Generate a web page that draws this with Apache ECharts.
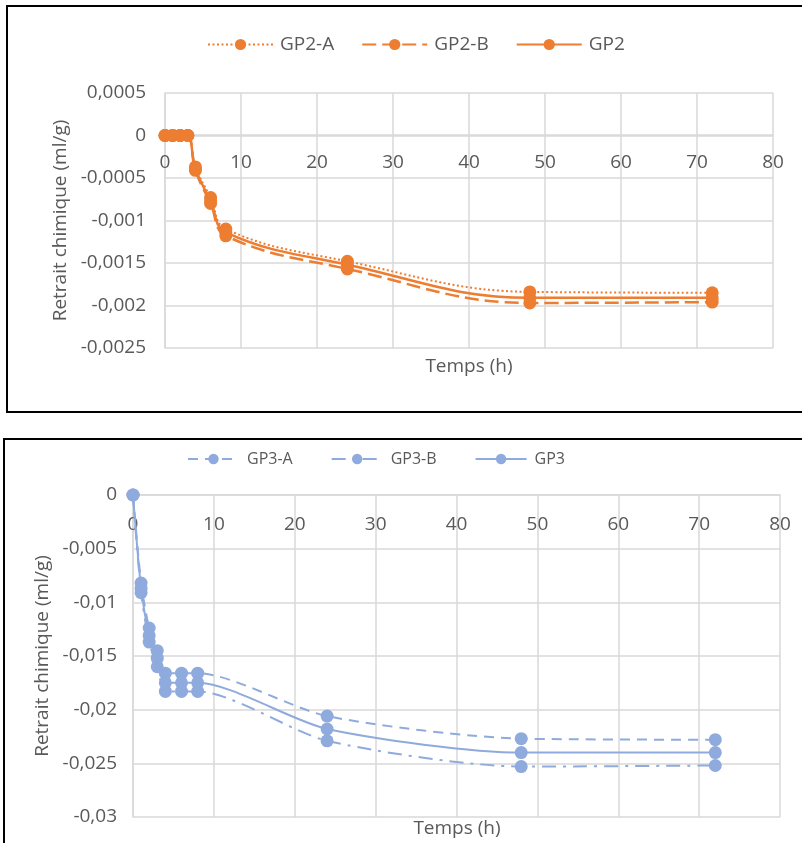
<!DOCTYPE html>
<html><head><meta charset="utf-8">
<script src="https://cdn.jsdelivr.net/npm/echarts@6/dist/echarts.min.js"></script>
<style>html,body{margin:0;padding:0;background:#fff}#c{width:802px;height:843px}</style>
</head><body><div id="c"></div>
<script>
// ---- data ----
const timeGP2 = [0, 1, 2, 3, 4, 6, 8, 24, 48, 72];
const gp2A = [0, 0, 0, 0, -0.00037, -0.00073, -0.00110, -0.00148, -0.00184, -0.00185];
const gp2B = [0, 0, 0, 0, -0.00041, -0.00080, -0.00118, -0.00157, -0.00197, -0.00196];
const gp2  = [0, 0, 0, 0, -0.00039, -0.00077, -0.00114, -0.00152, -0.00191, -0.00191];

const timeGP3 = [0, 1, 2, 3, 4, 6, 8, 24, 48, 72];
const gp3A = [0, -0.0082, -0.0124, -0.0145, -0.0166, -0.0166, -0.0166, -0.0206, -0.0227, -0.0228];
const gp3B = [0, -0.0091, -0.0137, -0.0160, -0.0183, -0.0183, -0.0183, -0.0229, -0.0253, -0.0252];
const gp3  = [0, -0.0087, -0.0131, -0.0152, -0.0175, -0.0175, -0.0175, -0.0218, -0.0240, -0.0240];

const namesTop = ['GP2-A', 'GP2-B', 'GP2'];
const namesBot = ['GP3-A', 'GP3-B', 'GP3'];
const xTicks = [0, 10, 20, 30, 40, 50, 60, 70, 80];
const xTitle = 'Temps (h)';
const yTitle = 'Retrait chimique (ml/g)';

const ORANGE = '#ED7D31', BLUE = '#8FAADC', GRAY = '#595959', GRID = '#D9D9D9';
const FONT = 'Open Sans';
const pairs = (xs, ys) => xs.map((x, i) => [x, ys[i]]);
const fmt = v => String(+v.toPrecision(6)).replace('.', ',');

const chart = echarts.init(document.getElementById('c'), null, {renderer: 'canvas'});

// The x axis sits on the y = 0 line (Excel style); offset moves it from the grid bottom up to zero.
function xAxisMain(gi, offset, margin) {
  return {
    type: 'value', gridIndex: gi, min: xTicks[0], max: xTicks[xTicks.length - 1], interval: 10,
    position: 'bottom', offset: offset,
    axisLine: {onZero: false, lineStyle: {color: GRID, width: 1.5}},
    axisTick: {show: false},
    axisLabel: {color: GRAY, fontFamily: FONT, fontSize: 19, margin: margin},
    splitLine: {show: true, lineStyle: {color: GRID, width: 1.5}}
  };
}
function yAxis(gi, min, max, interval, margin, gap) {
  return {
    type: 'value', gridIndex: gi, min: min, max: max, interval: interval,
    axisLine: {show: true, lineStyle: {color: GRID, width: 1.5}},
    axisTick: {show: false},
    axisLabel: {color: GRAY, fontFamily: FONT, fontSize: 19, margin: margin, formatter: fmt},
    splitLine: {show: true, lineStyle: {color: GRID, width: 1.5}},
    name: yTitle, nameLocation: 'middle', nameGap: gap,
    nameTextStyle: {color: GRAY, fontFamily: FONT, fontSize: 19}
  };
}
function ser(name, data, color, dash, width, xi, yi, z, sm) {
  return {
    name: name, type: 'line', xAxisIndex: xi, yAxisIndex: yi, data: data,
    smooth: sm, symbol: 'circle', symbolSize: 13, z: z,
    lineStyle: {color: color, width: width, type: dash},
    itemStyle: {color: color}
  };
}
const titleStyle = {color: GRAY, fontFamily: FONT, fontSize: 19, fontWeight: 'normal'};

chart.setOption({
  animation: false,
  backgroundColor: '#fff',
  title: [
    {text: xTitle, left: 469, top: 357, textAlign: 'center', padding: 0, textStyle: titleStyle},
    {text: xTitle, left: 457, top: 819, textAlign: 'center', padding: 0, textStyle: titleStyle}
  ],
  graphic: [
    {type: 'rect', shape: {x: 7, y: 6, width: 800, height: 406}, style: {fill: 'none', stroke: '#000', lineWidth: 2}},
    {type: 'rect', shape: {x: 4, y: 439, width: 804, height: 420}, style: {fill: 'none', stroke: '#000', lineWidth: 2}}
  ],
  legend: [
    {data: namesTop, left: 202, top: 30, itemWidth: 65, itemHeight: 14, itemGap: 27,
     textStyle: {color: GRAY, fontFamily: FONT, fontSize: 19, padding: [0, 0, 0, 2]}},
    {data: namesBot, left: 182, top: 446, itemWidth: 51, itemHeight: 13, itemGap: 38,
     textStyle: {color: GRAY, fontFamily: FONT, fontSize: 16, padding: [0, 0, 0, 3]}}
  ],
  grid: [
    {left: 165, top: 93, width: 608, height: 255, outerBoundsMode: 'none', containLabel: false},
    {left: 133, top: 495, width: 647, height: 322, outerBoundsMode: 'none', containLabel: false}
  ],
  xAxis: [xAxisMain(0, -213, 18), xAxisMain(1, -322, 20)],
  yAxis: [yAxis(0, -0.0025, 0.0005, 0.0005, 19, 93), yAxis(1, -0.03, 0, 0.005, 16, 78)],
  series: [
    ser(namesTop[0], pairs(timeGP2, gp2A), ORANGE, [2, 2.5], 2, 0, 0, 2, 0.4),
    ser(namesTop[1], pairs(timeGP2, gp2B), ORANGE, [14, 6], 2.5, 0, 0, 3, 0.4),
    ser(namesTop[2], pairs(timeGP2, gp2), ORANGE, 'solid', 2.5, 0, 0, 4, 0.4),
    ser(namesBot[0], pairs(timeGP3, gp3A), BLUE, [10, 7], 2, 1, 1, 2, 0.25),
    ser(namesBot[1], pairs(timeGP3, gp3B), BLUE, [14, 7, 3, 7], 2, 1, 1, 3, 0.25),
    ser(namesBot[2], pairs(timeGP3, gp3), BLUE, 'solid', 2, 1, 1, 4, 0.25)
  ]
});
</script></body></html>
